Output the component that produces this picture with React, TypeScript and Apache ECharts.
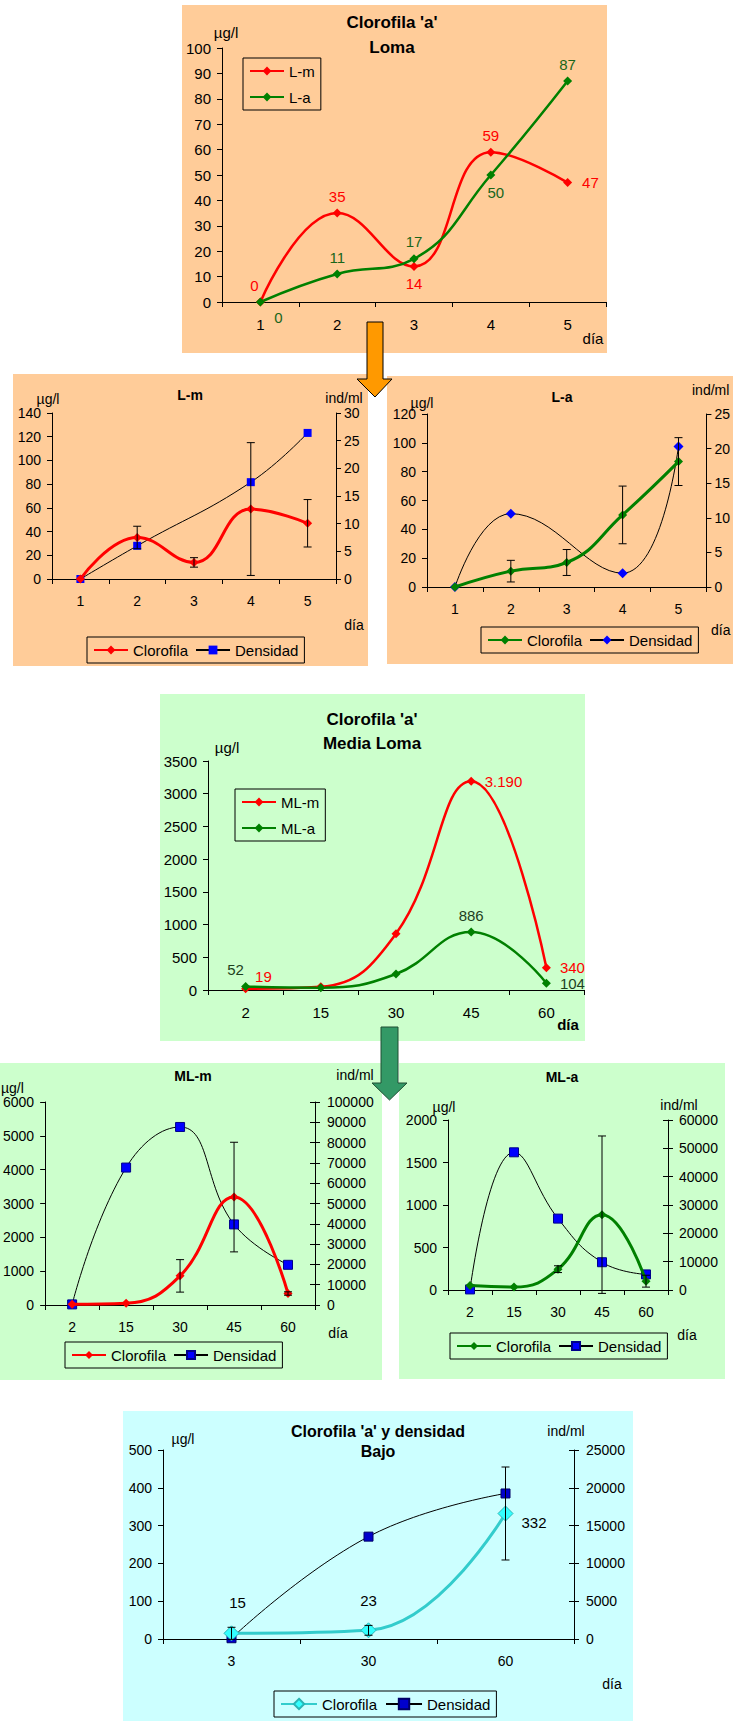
import React, { useEffect, useRef } from "react";
import * as echarts from "echarts";

const FONT = "Liberation Sans";

// ---------- Loma ----------
const lomaDays = ["1", "2", "3", "4", "5"];
const lomaLm = [0, 35, 14, 59, 47];
const lomaLa = [0, 11, 17, 50, 87];
const lmChlErr = [0, 9.5, 4, 56, 20];
const lmDens = [0, 6, null, 17.5, 26.4];
const laChlErr = [0, 7.5, 9, 20, 16.6];
const laDens = [0, 10.6, null, 2, 20.3];

// ---------- Media Loma ----------
const mlDays = ["2", "15", "30", "45", "60"];
const mlmChl = [19, 50, 861, 3190, 340];
const mlaChl = [52, 35, 245, 886, 104];
const mlmChlErr = [0, 0, 480, 1620, 50];
const mlmDens = [300, 67700, 87700, 39700, 19800];
const mlaChlErr = [0, 0, 40, 926, 70];
const mlaDens = [200, 48600, 25200, 9800, 5500];

// ---------- Bajo ----------
const bajoDays = ["3", "30", "60"];
const bajoChl = [15, 23, 332];
const bajoChlErr = [16, 13, 123];
const bajoDens = [100, 13540, 19250];

// ---------- axis scales ----------
const lomaScale = { min: 0, max: 100, interval: 10 };
const lmLeftScale = { min: 0, max: 140, interval: 20 };
const lmRightScale = { min: 0, max: 30, interval: 5 };
const laLeftScale = { min: 0, max: 120, interval: 20 };
const laRightScale = { min: 0, max: 25, interval: 5 };
const mlScale = { min: 0, max: 3500, interval: 500 };
const mlmLeftScale = { min: 0, max: 6000, interval: 1000 };
const mlmRightScale = { min: 0, max: 100000, interval: 10000 };
const mlaLeftScale = { min: 0, max: 2000, interval: 500 };
const mlaRightScale = { min: 0, max: 60000, interval: 10000 };
const bajoLeftScale = { min: 0, max: 500, interval: 100 };
const bajoRightScale = { min: 0, max: 25000, interval: 5000 };

// ---------- styles ----------
const PEACH = "#FFCC99";
const MINT = "#CCFFCC";
const AQUA = "#CCFFFF";
const RED = "#FF0000";
const GREEN = "#008000";
const DKGREEN = "#1A661A";
const BLUE = "#0000FF";

const topLmLabels: any[] = [
  { position: "top", offset: [-6, 0] },
  { position: "top" },
  { position: "bottom" },
  { position: "top" },
  { position: "right", distance: 10 },
];
const topLaLabels: any[] = [
  { position: "bottom", offset: [18, -2] },
  { position: "top" },
  { position: "top" },
  { position: "bottom", offset: [5, 0] },
  { position: "top" },
];
const mlmLabels: any[] = [
  { position: "right", offset: [0, -12] },
  null,
  null,
  { position: "right", distance: 9 },
  { position: "right", distance: 9 },
];
const mlaLabels: any[] = [
  { position: "top", offset: [-10, 0] },
  null,
  null,
  { position: "top" },
  { position: "right", distance: 9 },
];
const bajoLabels: any[] = [
  { position: "top", distance: 15, offset: [6, 0] },
  { position: "top", distance: 14 },
  { position: "right", distance: 8, offset: [0, 9] },
];

const thousands = (v: number) =>
  String(Math.round(v)).replace(/\B(?=(\d{3})+(?!\d))/g, ".");

function withLabels(values: any[], labels: any[] | null, base: any) {
  return values.map((v, i) =>
    labels && labels[i] ? { value: v, label: { ...base, ...labels[i] } } : v
  );
}

function lineSeries(o: {
  name: string;
  data: any[];
  xi: number;
  yi: number;
  color: string;
  lineColor?: string;
  symbol?: string;
  symbolSize?: any;
  width?: number;
  labels?: any[] | null;
  labelColor?: string;
  labelSize?: number;
  formatter?: any;
  border?: string;
  z?: number;
}) {
  const base = {
    show: true,
    color: o.labelColor || o.color,
    fontSize: o.labelSize || 15,
    fontFamily: FONT,
    ...(o.formatter ? { formatter: o.formatter } : {}),
  };
  return {
    type: "line",
    name: o.name,
    xAxisIndex: o.xi,
    yAxisIndex: o.yi,
    data: withLabels(o.data, o.labels || null, base),
    smooth: 0.45,
    connectNulls: true,
    symbol: o.symbol || "diamond",
    symbolSize: o.symbolSize || 9,
    showAllSymbol: true,
    lineStyle: { color: o.lineColor || o.color, width: o.width || 2.5 },
    itemStyle: {
      color: o.color,
      borderColor: o.border || o.color,
      borderWidth: o.border ? 1 : 0,
    },
    label: { show: false },
    z: o.z || 2,
  };
}

function errSeries(values: number[], errs: number[], xi: number, yi: number) {
  const data = values
    .map((v, i) => (errs[i] ? [i, v - errs[i], v + errs[i]] : null))
    .filter(Boolean);
  return {
    type: "custom",
    xAxisIndex: xi,
    yAxisIndex: yi,
    clip: false,
    z: 5,
    encode: { x: 0, y: [1, 2] },
    data,
    renderItem: (params: any, api: any) => {
      const i = api.value(0);
      const lo = api.coord([i, api.value(1)]);
      const hi = api.coord([i, api.value(2)]);
      const c = 4;
      const st = { stroke: "#000", lineWidth: 1 };
      return {
        type: "group",
        children: [
          { type: "line", shape: { x1: lo[0], y1: lo[1], x2: hi[0], y2: hi[1] }, style: st },
          { type: "line", shape: { x1: lo[0] - c, y1: lo[1], x2: lo[0] + c, y2: lo[1] }, style: st },
          { type: "line", shape: { x1: hi[0] - c, y1: hi[1], x2: hi[0] + c, y2: hi[1] }, style: st },
        ],
      };
    },
  };
}

const grids = [
  { left: 222, top: 48, width: 384, height: 254 }, // 0 Loma
  { left: 52, top: 413, width: 284, height: 166 }, // 1 L-m
  { left: 427, top: 414, width: 280, height: 173 }, // 2 L-a
  { left: 208, top: 761, width: 376, height: 229 }, // 3 Media Loma
  { left: 44, top: 1102, width: 271, height: 203 }, // 4 ML-m
  { left: 448, top: 1120, width: 220, height: 170 }, // 5 ML-a
  { left: 163, top: 1450, width: 411, height: 189 }, // 6 Bajo
];

function xAx(gi: number, data: string[], fs: number) {
  return {
    type: "category",
    gridIndex: gi,
    data,
    boundaryGap: true,
    axisLine: { show: true, lineStyle: { color: "#000", width: 1 } },
    axisTick: { show: true, length: 5, interval: 0, alignWithLabel: false, lineStyle: { color: "#000" } },
    axisLabel: { fontSize: fs, color: "#000", margin: 15, interval: 0, fontFamily: FONT },
    splitLine: { show: false },
  };
}

function yAx(gi: number, sc: any, pos: string, fs: number, margin: number) {
  return {
    type: "value",
    gridIndex: gi,
    position: pos,
    ...sc,
    axisLine: { show: true, onZero: false, lineStyle: { color: "#000", width: 1 } },
    axisTick: { show: true, length: 5, lineStyle: { color: "#000" } },
    axisLabel: {
      fontSize: fs,
      color: "#000",
      margin,
      fontFamily: FONT,
      formatter: (v: number) => String(v),
    },
    splitLine: { show: false },
  };
}

function crossAx(gi: number, sc: any) {
  return {
    type: "value",
    gridIndex: gi,
    position: "right",
    ...sc,
    axisLine: { show: false },
    axisTick: { show: true, inside: true, length: 5, lineStyle: { color: "#000" } },
    axisLabel: { show: false },
    splitLine: { show: false },
  };
}

const xAxes = [
  xAx(0, lomaDays, 15),
  xAx(1, lomaDays, 14),
  xAx(2, lomaDays, 14),
  xAx(3, mlDays, 15),
  xAx(4, mlDays, 14),
  xAx(5, mlDays, 14),
  xAx(6, bajoDays, 14),
];

const yAxes = [
  yAx(0, lomaScale, "left", 15, 11), // 0
  yAx(1, lmLeftScale, "left", 14, 11), // 1
  yAx(1, lmRightScale, "right", 14, 8), // 2
  yAx(2, laLeftScale, "left", 14, 11), // 3
  yAx(2, laRightScale, "right", 14, 8), // 4
  yAx(3, mlScale, "left", 15, 11), // 5
  yAx(4, mlmLeftScale, "left", 14, 11), // 6
  yAx(4, mlmRightScale, "right", 14, 12), // 7
  yAx(5, mlaLeftScale, "left", 14, 11), // 8
  yAx(5, mlaRightScale, "right", 14, 11), // 9
  yAx(6, bajoLeftScale, "left", 14, 11), // 10
  yAx(6, bajoRightScale, "right", 14, 12), // 11
  crossAx(4, mlmRightScale), // 12
  crossAx(5, mlaRightScale), // 13
  crossAx(6, bajoRightScale), // 14
];

const series: any[] = [
  // Loma
  lineSeries({ name: "L-m", data: lomaLm, xi: 0, yi: 0, color: RED, labels: topLmLabels }),
  lineSeries({ name: "L-a", data: lomaLa, xi: 0, yi: 0, color: GREEN, labels: topLaLabels, labelColor: DKGREEN }),
  // L-m
  lineSeries({ name: "Densidad#lm", data: lmDens, xi: 1, yi: 2, color: BLUE, lineColor: "#000", width: 1, symbol: "rect", symbolSize: 8 }),
  lineSeries({ name: "Clorofila#lm", data: lomaLm, xi: 1, yi: 1, color: RED, width: 3, z: 3 }),
  errSeries(lomaLm, lmChlErr, 1, 1),
  // L-a
  lineSeries({ name: "Densidad#la", data: laDens, xi: 2, yi: 4, color: BLUE, lineColor: "#000", width: 1, symbol: "diamond", symbolSize: 10 }),
  lineSeries({ name: "Clorofila#la", data: lomaLa, xi: 2, yi: 3, color: GREEN, width: 3, z: 3 }),
  errSeries(lomaLa, laChlErr, 2, 3),
  // Media Loma
  lineSeries({ name: "ML-m", data: mlmChl, xi: 3, yi: 5, color: RED, labels: mlmLabels, formatter: (p: any) => thousands(p.value) }),
  lineSeries({ name: "ML-a", data: mlaChl, xi: 3, yi: 5, color: GREEN, labels: mlaLabels, labelColor: "#1E3F1E", formatter: (p: any) => thousands(p.value) }),
  // ML-m
  lineSeries({ name: "Densidad#mlm", data: mlmDens, xi: 4, yi: 7, color: BLUE, lineColor: "#000", width: 1, symbol: "rect", symbolSize: 9, border: "#00008B" }),
  lineSeries({ name: "Clorofila#mlm", data: mlmChl, xi: 4, yi: 6, color: RED, width: 3, z: 3 }),
  errSeries(mlmChl, mlmChlErr, 4, 6),
  // ML-a
  lineSeries({ name: "Densidad#mla", data: mlaDens, xi: 5, yi: 9, color: BLUE, lineColor: "#000", width: 1, symbol: "rect", symbolSize: 9, border: "#00008B" }),
  lineSeries({ name: "Clorofila#mla", data: mlaChl, xi: 5, yi: 8, color: GREEN, width: 3, z: 3 }),
  errSeries(mlaChl, mlaChlErr, 5, 8),
  // Bajo
  lineSeries({ name: "Densidad#bajo", data: bajoDens, xi: 6, yi: 11, color: "#0000CC", lineColor: "#000", width: 1, symbol: "rect", symbolSize: 9, border: "#000066" }),
  lineSeries({ name: "Clorofila#bajo", data: bajoChl, xi: 6, yi: 10, color: "#33FFFF", lineColor: "#33CCCC", width: 3, symbolSize: 15, border: "#2AB5B5", labels: bajoLabels, labelColor: "#000", labelSize: 15, z: 3 }),
  errSeries(bajoChl, bajoChlErr, 6, 10),
];

function legend(o: { left: number; top: number; data: string[]; orient?: string; itemWidth?: number; itemHeight?: number; itemGap?: number }) {
  return {
    show: true,
    orient: o.orient || "horizontal",
    left: o.left,
    top: o.top,
    data: o.data,
    formatter: (n: string) => n.split("#")[0],
    itemWidth: o.itemWidth || 34,
    itemHeight: o.itemHeight || 11,
    itemGap: o.itemGap ?? 7,
    padding: [5, 6, 5, 6],
    borderColor: "#000",
    borderWidth: 1,
    backgroundColor: "transparent",
    selectedMode: false,
    textStyle: { fontSize: 15, fontFamily: FONT, color: "#000", lineHeight: 16 },
  };
}

const legends = [
  legend({ left: 243, top: 58, data: ["L-m", "L-a"], orient: "vertical", itemGap: 10 }),
  legend({ left: 87, top: 637, data: ["Clorofila#lm", "Densidad#lm"] }),
  legend({ left: 481, top: 627, data: ["Clorofila#la", "Densidad#la"] }),
  legend({ left: 235, top: 789, data: ["ML-m", "ML-a"], orient: "vertical", itemGap: 10 }),
  legend({ left: 65, top: 1342, data: ["Clorofila#mlm", "Densidad#mlm"], itemHeight: 10 }),
  legend({ left: 450, top: 1333, data: ["Clorofila#mla", "Densidad#mla"], itemHeight: 10 }),
  legend({ left: 274, top: 1691, data: ["Clorofila#bajo", "Densidad#bajo"], itemWidth: 36, itemHeight: 13, itemGap: 8 }),
];

const panels = [
  { x: 182, y: 5, w: 425, h: 348, c: PEACH },
  { x: 13, y: 374, w: 355, h: 292, c: PEACH },
  { x: 387, y: 376, w: 346, h: 288, c: PEACH },
  { x: 160, y: 694, w: 425, h: 347, c: MINT },
  { x: 0, y: 1063, w: 382, h: 317, c: MINT },
  { x: 399, y: 1063, w: 326, h: 316, c: MINT },
  { x: 123, y: 1411, w: 510, h: 310, c: AQUA },
];

// [x, y, text, size, weight, align]
const texts: any[] = [
  [392, 22, "Clorofila 'a'", 17, "bold", "center"],
  [392, 47, "Loma", 17, "bold", "center"],
  [226, 32, "µg/l", 15, "normal", "center"],
  [593, 338, "día", 15, "normal", "center"],

  [190, 395, "L-m", 14, "bold", "center"],
  [48, 399, "µg/l", 14, "normal", "center"],
  [344, 398, "ind/ml", 14, "normal", "center"],
  [354, 625, "día", 14, "normal", "center"],

  [562, 397, "L-a", 14, "bold", "center"],
  [422, 403, "µg/l", 14, "normal", "center"],
  [692, 390, "ind/ml", 14, "normal", "left"],
  [711, 630, "día", 14, "normal", "left"],

  [372, 719, "Clorofila 'a'", 17, "bold", "center"],
  [372, 743, "Media Loma", 17, "bold", "center"],
  [227, 747, "µg/l", 15, "normal", "center"],
  [568, 1024, "día", 15, "bold", "center"],

  [193, 1076, "ML-m", 14, "bold", "center"],
  [1, 1088, "µg/l", 14, "normal", "left"],
  [355, 1075, "ind/ml", 14, "normal", "center"],
  [338, 1333, "día", 14, "normal", "center"],

  [562, 1077, "ML-a", 14, "bold", "center"],
  [444, 1107, "µg/l", 14, "normal", "center"],
  [679, 1105, "ind/ml", 14, "normal", "center"],
  [687, 1335, "día", 14, "normal", "center"],

  [378, 1431, "Clorofila 'a' y densidad", 16, "bold", "center"],
  [378, 1451, "Bajo", 16, "bold", "center"],
  [183, 1439, "µg/l", 14, "normal", "center"],
  [566, 1431, "ind/ml", 14, "normal", "center"],
  [612, 1684, "día", 14, "normal", "center"],
];

const graphic: any[] = [
  ...panels.map((p) => ({
    type: "rect",
    z: -100,
    shape: { x: p.x, y: p.y, width: p.w, height: p.h },
    style: { fill: p.c },
    silent: true,
  })),
  ...texts.map((t) => ({
    type: "text",
    x: t[0],
    y: t[1],
    z: 50,
    silent: true,
    style: {
      text: t[2],
      fontSize: t[3],
      fontWeight: t[4],
      fontFamily: FONT,
      fill: "#000",
      align: t[5],
      verticalAlign: "middle",
    },
  })),
  {
    type: "polygon",
    z: 100,
    shape: {
      points: [
        [367, 322], [383, 322], [383, 379], [392, 379], [375, 397], [357, 379], [367, 379],
      ],
    },
    style: { fill: "#FF9900", stroke: "#000", lineWidth: 1 },
  },
  {
    type: "polygon",
    z: 100,
    shape: {
      points: [
        [381, 1027], [398, 1027], [398, 1083], [407, 1083], [389.5, 1100], [372, 1083], [381, 1083],
      ],
    },
    style: { fill: "#339966", stroke: "#1F4F33", lineWidth: 1 },
  },
];

const option: any = {
  animation: false,
  textStyle: { fontFamily: FONT },
  grid: grids,
  xAxis: xAxes,
  yAxis: yAxes,
  legend: legends,
  series,
  graphic,
};

export default function App() {
  const ref = useRef<HTMLDivElement>(null);
  useEffect(() => {
    const chart = echarts.init(ref.current!, null, { renderer: "svg", width: 733, height: 1722 });
    chart.setOption(option);
    return () => chart.dispose();
  }, []);
  return (
    <div
      ref={ref}
      style={{ position: "absolute", left: 0, top: 0, width: 733, height: 1722, background: "#fff" }}
    />
  );
}
